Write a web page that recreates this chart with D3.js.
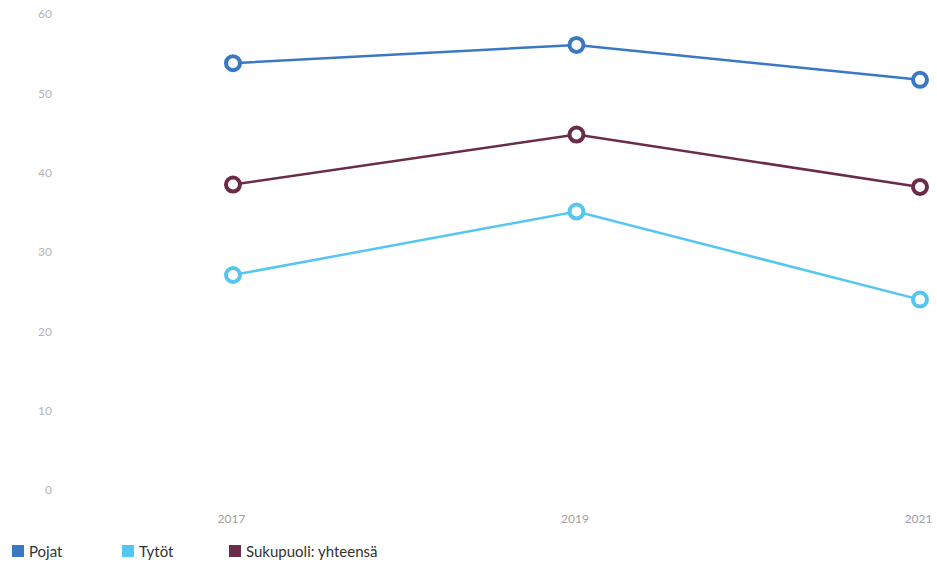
<!DOCTYPE html>
<html><head><meta charset="utf-8">
<script src="https://cdn.jsdelivr.net/npm/d3@7"></script>
<style>body{margin:0;background:#fff;font-family:Lato,"Open Sans",sans-serif;}</style>
</head><body><svg id="c" width="937" height="566"></svg>
<script>
const years = ["2017","2019","2021"];
const pojat = [53.8, 56.1, 51.7];
const tytot = [27.1, 35.1, 24.0];
const yhteensa = [38.5, 44.8, 38.2];
const seriesNames = ["Pojat","Tytöt","Sukupuoli: yhteensä"];
const colors = ["#3b78c3","#55c6ef","#6a2c49"];
const yTicks = [0,10,20,30,40,50,60];

const svg = d3.select("#c");
const x = d3.scalePoint().domain(years).range([233, 920]);
const y = d3.scaleLinear().domain([0,60]).range([490, 14]);

const yAxis = svg.append("g").attr("transform","translate(52,0)")
  .call(d3.axisLeft(y).tickValues(yTicks).tickSize(0).tickPadding(0));
yAxis.select(".domain").remove();
yAxis.selectAll("text").attr("fill","#b5b5b5").attr("font-size",12).attr("font-family","Lato,sans-serif");

const xAxis = svg.append("g").attr("transform","translate(0,514)")
  .call(d3.axisBottom(x).tickSize(0).tickPadding(0));
xAxis.select(".domain").remove();
xAxis.selectAll("text").attr("fill","#a0a0a0").attr("font-size",12).attr("font-family","Lato,sans-serif")
  .attr("text-anchor",(d,i)=> i===2 ? "end" : "middle")
  .attr("dx",(d,i)=> i===2 ? 12 : -2);

const data = [pojat, tytot, yhteensa];
const line = d3.line().x((d,i)=>x(years[i])).y(d=>y(d));
[1,2,0].forEach(k=>{
  const g = svg.append("g");
  g.append("path").attr("d", line(data[k])).attr("fill","none")
    .attr("stroke", colors[k]).attr("stroke-width",2.5);
  g.selectAll("circle").data(data[k]).join("circle")
    .attr("cx",(d,i)=>x(years[i])).attr("cy",d=>y(d)).attr("r",7)
    .attr("fill","#fff").attr("stroke",colors[k]).attr("stroke-width",4);
});

const legX = [12, 122, 229];
const leg = svg.append("g");
seriesNames.forEach((n,i)=>{
  leg.append("rect").attr("x",legX[i]).attr("y",545).attr("width",12).attr("height",12).attr("fill",colors[i]);
  leg.append("text").attr("x",legX[i]+17).attr("y",557).text(n)
    .attr("font-size",15).attr("fill","#333").attr("font-family","Lato,sans-serif");
});
</script></body></html>
